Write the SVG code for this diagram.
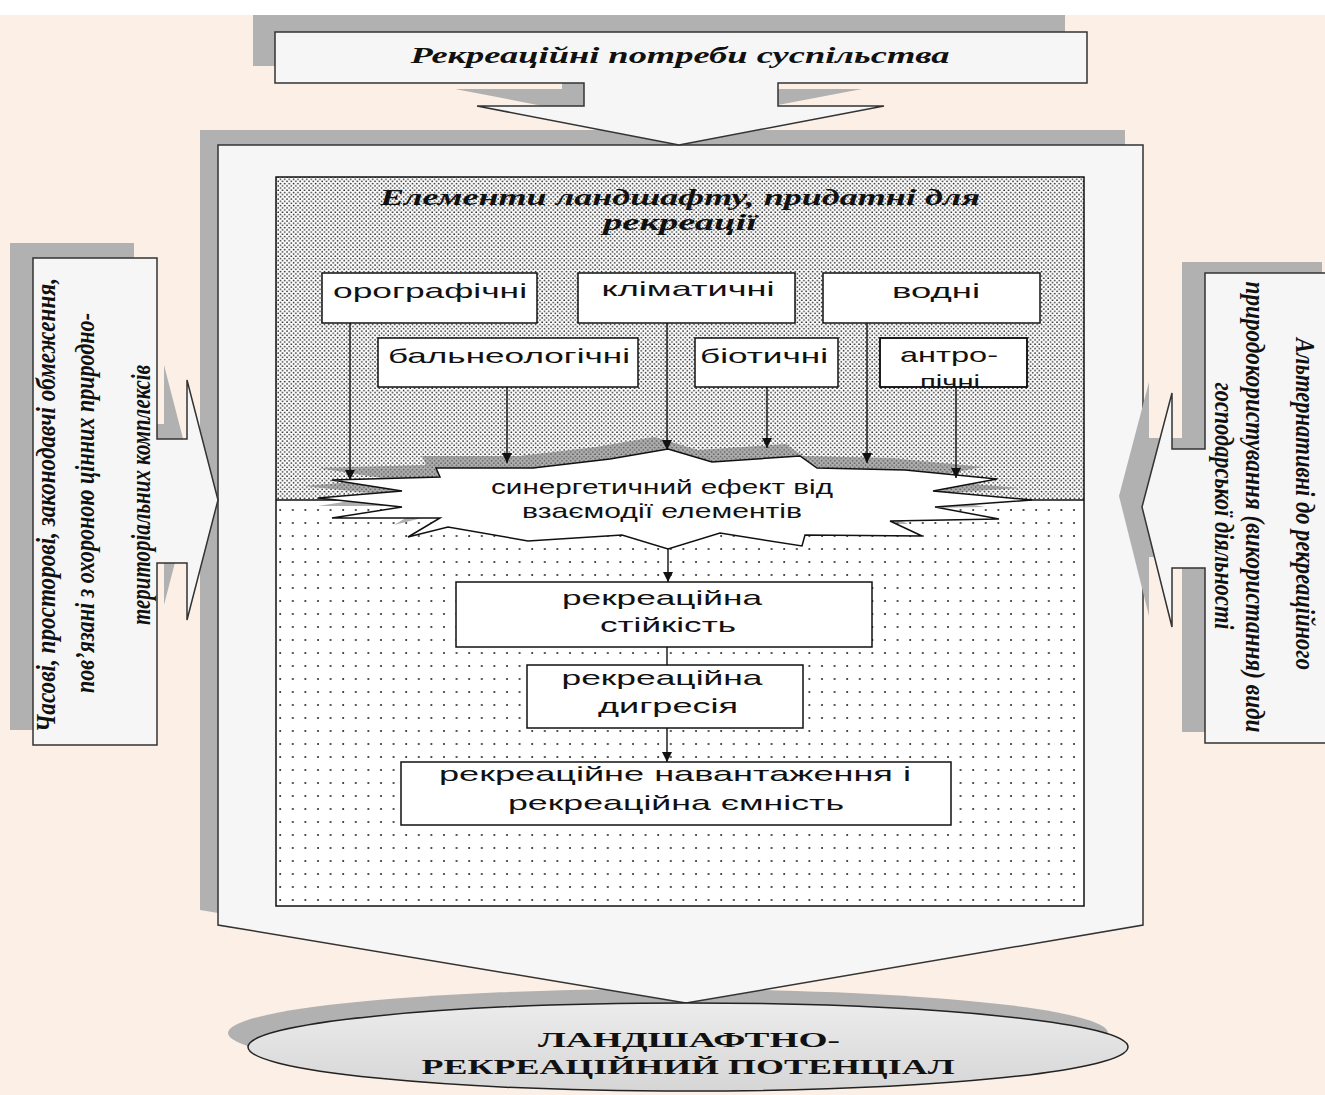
<svg xmlns="http://www.w3.org/2000/svg" width="1325" height="1095" viewBox="0 0 1325 1095">
<style>
.shadow{fill:#b1b1b1;stroke:none}
.panelbox{fill:#f6f6f6;stroke:#333;stroke-width:1.5}
.box{fill:#fff;stroke:#111;stroke-width:1.5}
.it{font-family:"Liberation Serif",serif;font-style:italic;font-weight:bold;fill:#111}
.sans{font-family:"Liberation Sans",Arial,sans-serif;fill:#111;font-size:21px}
.bold{font-family:"Liberation Serif",serif;font-weight:bold;fill:#111;font-size:21px}
.conn{stroke:#111;stroke-width:1.4;fill:none}
</style>
<defs>
<pattern id="dense" width="4.4" height="4.4" patternUnits="userSpaceOnUse">
<rect width="4.4" height="4.4" fill="#fff"/>
<circle cx="1" cy="1" r="0.85" fill="#222"/>
<circle cx="3.2" cy="3.2" r="0.85" fill="#222"/>
</pattern>
<pattern id="sparse" width="12.6" height="13" patternUnits="userSpaceOnUse">
<rect width="12.6" height="13" fill="#fff"/>
<circle cx="3" cy="3" r="1" fill="#222"/>
</pattern>
<marker id="ah" markerUnits="userSpaceOnUse" markerWidth="10" markerHeight="11" refX="10" refY="5" orient="auto">
<path d="M0,0 L10,5 L0,10 Z" fill="#111"/>
</marker>
<linearGradient id="ellg" x1="0" y1="0" x2="0" y2="1">
<stop offset="0" stop-color="#ececec"/>
<stop offset="1" stop-color="#d6d6d6"/>
</linearGradient>
<clipPath id="clipAnthro"><rect x="880" y="338" width="147" height="49"/></clipPath>
</defs>

<rect x="0" y="0" width="1325" height="1095" fill="#fff"/>
<rect x="0" y="15" width="1325" height="1080" fill="#fcefe5"/>

<g id="result-shadow">
<ellipse cx="668" cy="1033" rx="440" ry="44" class="shadow"/>
</g>

<g id="main-frame">
<polygon class="shadow" transform="translate(-18,-15)" points="218,145 1143,145 1143,925 686,1003 218,925"/>
<polygon class="panelbox" points="218,145 1143,145 1143,925 686,1003 218,925"/>
</g>

<g id="society-needs">
<polygon class="shadow" transform="translate(-22,-17)" points="275,32 1087,32 1087,83 778,83 778,106 884,106 679,145 477,106 584,106 584,83 275,83"/>
<polygon class="panelbox" points="275,32 1087,32 1087,83 778,83 778,106 884,106 679,145 477,106 584,106 584,83 275,83"/>
<text class="it" x="680" y="63" font-size="24" text-anchor="middle" textLength="539" lengthAdjust="spacingAndGlyphs">Рекреаційні потреби суспільства</text>
</g>

<g id="limits">
<polygon class="shadow" transform="translate(-23,-15)" points="33,258 157,258 157,439 187,439 187,380 218,500 187,620 187,563 157,563 157,745 33,745"/>
<polygon class="panelbox" points="33,258 157,258 157,439 187,439 187,380 218,500 187,620 187,563 157,563 157,745 33,745"/>
<text class="it" font-size="28" transform="translate(55,505) rotate(-90)" text-anchor="middle" textLength="454" lengthAdjust="spacingAndGlyphs">Часові, просторові, законодавчі обмеження,</text>
<text class="it" font-size="28" transform="translate(94,503) rotate(-90)" text-anchor="middle" textLength="380" lengthAdjust="spacingAndGlyphs">пов’язані з охороною цінних природно-</text>
<text class="it" font-size="28" transform="translate(150,495) rotate(-90)" text-anchor="middle" textLength="260" lengthAdjust="spacingAndGlyphs">територіальних комплексів</text>
</g>

<g id="alternatives">
<polygon class="shadow" transform="translate(-23,-11)" points="1205,273 1345,273 1345,743 1205,743 1205,568 1172,568 1172,627 1142,507 1172,393 1172,449 1205,449"/>
<polygon class="panelbox" points="1205,273 1345,273 1345,743 1205,743 1205,568 1172,568 1172,627 1142,507 1172,393 1172,449 1205,449"/>
<text class="it" font-size="28" transform="translate(1296,504) rotate(90)" text-anchor="middle" textLength="332" lengthAdjust="spacingAndGlyphs">Альтернативні до рекреаційного</text>
<text class="it" font-size="28" transform="translate(1246,507) rotate(90)" text-anchor="middle" textLength="451" lengthAdjust="spacingAndGlyphs">природокористування (використання) види</text>
<text class="it" font-size="28" transform="translate(1215,506) rotate(90)" text-anchor="middle" textLength="247" lengthAdjust="spacingAndGlyphs">господарської діяльності</text>
</g>

<g id="landscape-panel">
<rect x="276" y="177" width="808" height="323" fill="url(#dense)"/>
<rect x="276" y="500" width="808" height="406" fill="url(#sparse)"/>
<rect x="276" y="177" width="808" height="729" fill="none" stroke="#111" stroke-width="1.5"/>
<line x1="276" y1="500" x2="1084" y2="500" stroke="#111" stroke-width="1.5"/>
<text class="it" x="680" y="205" font-size="23" text-anchor="middle" textLength="600" lengthAdjust="spacingAndGlyphs">Елементи ландшафту, придатні для</text>
<text class="it" x="680" y="230" font-size="23" text-anchor="middle" textLength="154" lengthAdjust="spacingAndGlyphs">рекреації</text>
</g>

<g id="orographic">
<rect class="box" x="322" y="273" width="215" height="50"/>
<text class="sans" x="430" y="298" text-anchor="middle" textLength="194" lengthAdjust="spacingAndGlyphs">орографічні</text>
</g>
<g id="climatic">
<rect class="box" x="578" y="273" width="217" height="50"/>
<text class="sans" x="688" y="296" text-anchor="middle" textLength="173" lengthAdjust="spacingAndGlyphs">кліматичні</text>
</g>
<g id="water">
<rect class="box" x="823" y="273" width="217" height="50"/>
<text class="sans" x="936" y="298" text-anchor="middle" textLength="88" lengthAdjust="spacingAndGlyphs">водні</text>
</g>
<g id="balneological">
<rect class="box" x="378" y="338" width="260" height="49"/>
<text class="sans" x="509" y="363" text-anchor="middle" textLength="242" lengthAdjust="spacingAndGlyphs">бальнеологічні</text>
</g>
<g id="biotic">
<rect class="box" x="695" y="338" width="143" height="49"/>
<text class="sans" x="764" y="363" text-anchor="middle" textLength="128" lengthAdjust="spacingAndGlyphs">біотичні</text>
</g>
<g id="anthropic">
<rect class="box" x="880" y="338" width="147" height="49"/>
<g clip-path="url(#clipAnthro)">
<text class="sans" x="949" y="362" text-anchor="middle" textLength="98" lengthAdjust="spacingAndGlyphs">антро-</text>
<text class="sans" x="950" y="389" text-anchor="middle" textLength="60" lengthAdjust="spacingAndGlyphs">пічні</text>
</g>
<rect x="880" y="338" width="147" height="49" fill="none" stroke="#111" stroke-width="1.5"/>
</g>

<g id="synergy">
<polygon transform="translate(-14,-12)" fill="#7a7a7a" fill-opacity="0.6" points="668,449 712,462 800,456 817,468 905,470 997,479 933,491 1032,500 935,507 999,519 890,521 922,536 805,535 802,546 720,533 668,549 622,535 528,541 448,527 408,537 440,518 332,518 402,507 318,498 402,491 332,480 440,477 436,468 533,468 610,459"/>
<polygon fill="#fff" stroke="#111" stroke-width="1.5" stroke-linejoin="miter" points="668,449 712,462 800,456 817,468 905,470 997,479 933,491 1032,500 935,507 999,519 890,521 922,536 805,535 802,546 720,533 668,549 622,535 528,541 448,527 408,537 440,518 332,518 402,507 318,498 402,491 332,480 440,477 436,468 533,468 610,459"/>
<text class="sans" x="662" y="494" font-size="20" text-anchor="middle" textLength="342" lengthAdjust="spacingAndGlyphs">синергетичний ефект від</text>
<text class="sans" x="662" y="518" font-size="20" text-anchor="middle" textLength="280" lengthAdjust="spacingAndGlyphs">взаємодії елементів</text>
</g>

<g id="stability">
<rect class="box" x="456" y="582" width="416" height="65"/>
<text class="sans" x="662" y="605" text-anchor="middle" textLength="200" lengthAdjust="spacingAndGlyphs">рекреаційна</text>
<text class="sans" x="668" y="632" text-anchor="middle" textLength="136" lengthAdjust="spacingAndGlyphs">стійкість</text>
</g>
<g id="digression">
<rect class="box" x="527" y="665" width="276" height="63"/>
<text class="sans" x="662" y="685" text-anchor="middle" textLength="201" lengthAdjust="spacingAndGlyphs">рекреаційна</text>
<text class="sans" x="668" y="713" text-anchor="middle" textLength="140" lengthAdjust="spacingAndGlyphs">дигресія</text>
</g>
<g id="load-capacity">
<rect class="box" x="401" y="762" width="550" height="63"/>
<text class="sans" x="675" y="781" text-anchor="middle" textLength="472" lengthAdjust="spacingAndGlyphs">рекреаційне навантаження і</text>
<text class="sans" x="676" y="810" text-anchor="middle" textLength="336" lengthAdjust="spacingAndGlyphs">рекреаційна ємність</text>
</g>

<g id="connectors">
<line class="conn" x1="350" y1="323" x2="350" y2="480" marker-end="url(#ah)"/>
<line class="conn" x1="507" y1="387" x2="507" y2="463" marker-end="url(#ah)"/>
<line class="conn" x1="667" y1="323" x2="667" y2="450" marker-end="url(#ah)"/>
<line class="conn" x1="767" y1="387" x2="767" y2="448" marker-end="url(#ah)"/>
<line class="conn" x1="867" y1="323" x2="867" y2="463" marker-end="url(#ah)"/>
<line class="conn" x1="956" y1="387" x2="956" y2="478" marker-end="url(#ah)"/>
<line class="conn" x1="668" y1="549" x2="668" y2="582" marker-end="url(#ah)"/>
<line class="conn" x1="667" y1="647" x2="667" y2="665"/>
<line class="conn" x1="667" y1="728" x2="667" y2="762" marker-end="url(#ah)"/>
</g>

<g id="result">
<ellipse cx="688" cy="1047" rx="440" ry="44" fill="url(#ellg)" stroke="#222" stroke-width="1.5"/>
<text class="bold" x="689" y="1047" text-anchor="middle" textLength="302" lengthAdjust="spacingAndGlyphs">ЛАНДШАФТНО-</text>
<text class="bold" x="688" y="1074" text-anchor="middle" textLength="533" lengthAdjust="spacingAndGlyphs">РЕКРЕАЦІЙНИЙ ПОТЕНЦІАЛ</text>
</g>
</svg>
